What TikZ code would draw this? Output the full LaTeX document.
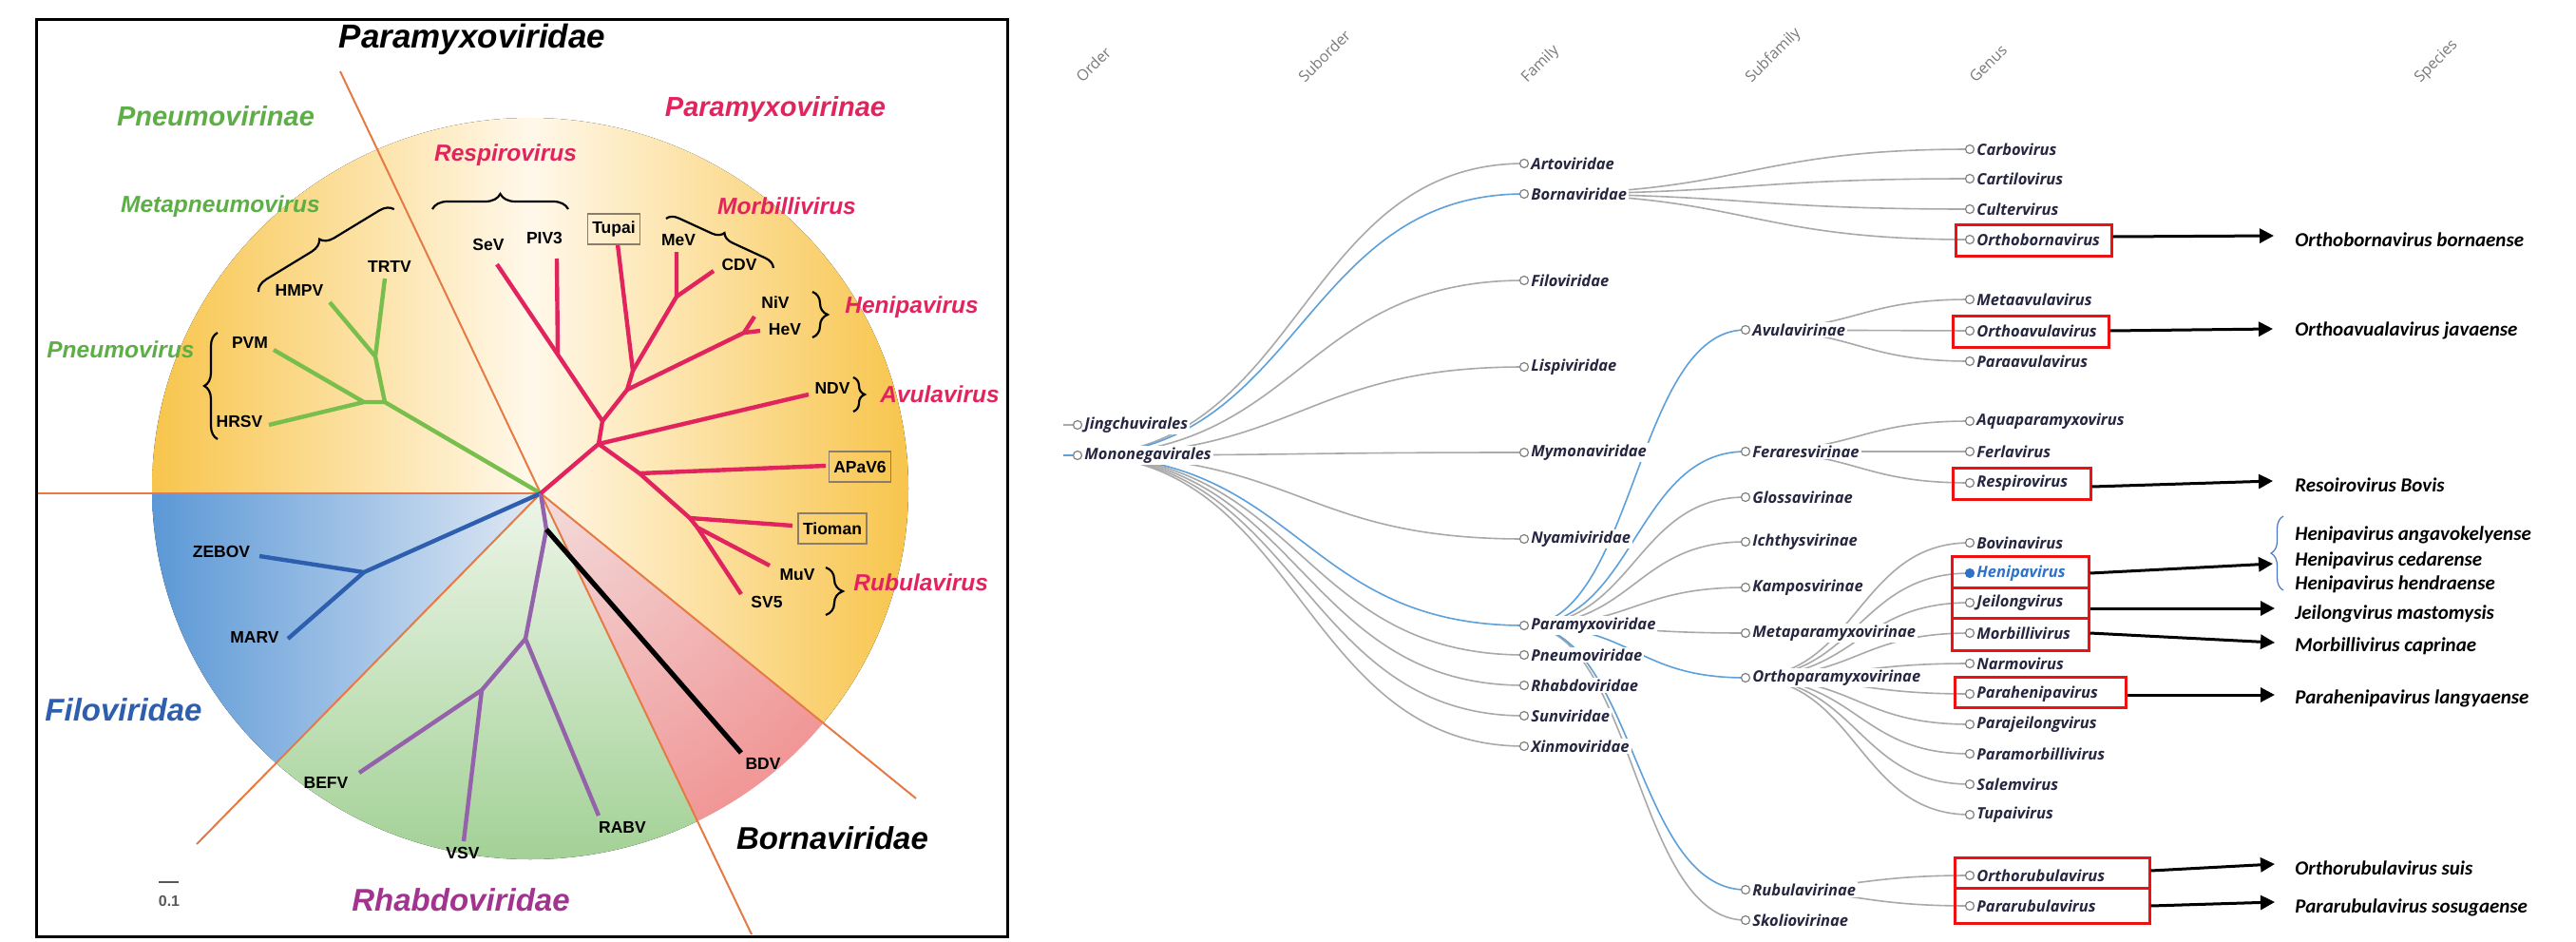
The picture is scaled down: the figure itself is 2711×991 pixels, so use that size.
\documentclass[tikz,border=0pt]{standalone}
\usepackage{fontspec}
\setmainfont{Liberation Sans}
\newfontfamily\osans{Open Sans}
\newfontfamily\carl{Carlito}
\usetikzlibrary{arrows.meta,decorations.pathreplacing,calc}
\pgfdeclarelayer{bg}
\pgfsetlayers{bg,main}
\definecolor{orY}{HTML}{F8C54C}
\definecolor{crY}{HTML}{FFF8EA}
\definecolor{bluD}{HTML}{5B98D6}
\definecolor{bluL}{HTML}{DDE7F4}
\definecolor{grnD}{HTML}{A3D196}
\definecolor{grnL}{HTML}{EEF6EA}
\definecolor{redD}{HTML}{EE4A4A}
\definecolor{redL}{HTML}{F3DCDC}
\definecolor{divO}{HTML}{E57A44}
\definecolor{pneuG}{HTML}{78BE4C}
\definecolor{pneuT}{HTML}{5DAE47}
\definecolor{paraR}{HTML}{E2245E}
\definecolor{filoB}{HTML}{2E5FAE}
\definecolor{rhabP}{HTML}{9462AA}
\definecolor{rhabT}{HTML}{A2338F}
\definecolor{boxC}{HTML}{8B7D6B}
\definecolor{lnkG}{HTML}{A9A9A9}
\definecolor{lnkB}{HTML}{5DA0DA}
\definecolor{txtN}{HTML}{262640}
\definecolor{hdrG}{HTML}{7A7A7A}
\definecolor{boxR}{HTML}{EE1111}
\definecolor{henB}{HTML}{2F73C8}
\definecolor{brB}{HTML}{4A76C8}
\newcommand\tnode[4]{\node[tdot] (#1) at (#2,#3) {};\node[lbl] (#1-l) at (#2+5,#3) {#4};}
\newcommand\lk[3][lnkG]{\draw[#1,line width=0.8pt] let \p1=(#2.center),\p2=(#3.center) in (\p1) .. controls ({0.5*\x1+0.5*\x2},\y1) and ({0.5*\x1+0.5*\x2},\y2) .. (\p2);}
\begin{document}
\begin{tikzpicture}[x=0.5pt,y=-0.5pt,
 tl/.style={line width=2.2pt},
 div/.style={draw=divO,line width=1pt},
 lab/.style={font=\fontsize{8.75}{10}\selectfont\bfseries,inner sep=0pt},
 bxl/.style={lab,draw=boxC,line width=0.7pt,inner xsep=2.5pt,minimum height=16pt},
 fam/.style={font=\fontsize{16.5}{19}\selectfont\bfseries\itshape,inner sep=0pt},
 subf/.style={font=\fontsize{14.5}{17}\selectfont\bfseries\itshape,inner sep=0pt},
 gen/.style={font=\fontsize{12.25}{14}\selectfont\bfseries\itshape,inner sep=0pt},
 brc/.style={decorate,decoration={brace,amplitude=#1},line width=1.1pt},
 tdot/.style={circle,draw=black!50,line width=0.6pt,fill=white,minimum size=4.5pt,inner sep=0pt},
 lbl/.style={anchor=west,inner sep=1pt,fill=white,text=txtN,font=\osans\bfseries\itshape\fontsize{8.25}{9}\selectfont},
 hdr/.style={anchor=base west,rotate=45,inner sep=0pt,text=hdrG,font=\osans\fontsize{8}{9}\selectfont},
 rbox/.style={draw=boxR,line width=1.5pt,inner sep=0pt},
 spc/.style={anchor=west,inner sep=0pt,font=\carl\bfseries\itshape\fontsize{10.5}{12}\selectfont},
 sparr/.style={-{Triangle[length=7.5pt,width=7.5pt]},line width=1.5pt}
]
\useasboundingbox (0,0) rectangle (2711,991);
\begin{pgfonlayer}{bg}
\fill[white] (0,0) rectangle (2711,991);
\end{pgfonlayer}

%================ LEFT PANEL =================
\coordinate (root) at (569,519);
\begin{scope}
 \clip (root) -- (1540,1310) -- (1600,-300) -- (-300,-300) -- (-300,519) -- cycle;
 \fill[left color=orY,right color=orY,middle color=crY] (558,514) ellipse [x radius=398,y radius=390];
\end{scope}
\begin{scope}
 \clip (root) -- (-300,519) -- (-300,1310) -- (-206,1310) -- cycle;
 \fill[left color=bluD,right color=white,middle color=bluL] (558,514) ellipse [x radius=398,y radius=390];
\end{scope}
\begin{scope}
 \clip (root) -- (-206,1310) -- (949,1310) -- cycle;
 \fill[top color=grnL,bottom color=grnD,middle color=grnL] (558,514) ellipse [x radius=398,y radius=390];
\end{scope}
\begin{scope}
 \clip (root) -- (949,1310) -- (1540,1310) -- cycle;
 \clip (558,514) ellipse [x radius=398,y radius=390];
 \shade[inner color=redL,outer color=redD] (root) circle (800);
\end{scope}

\coordinate (d1) at (358,75);
\coordinate (d2) at (38,519);
\coordinate (d3) at (207,888);
\coordinate (d4) at (791,983);
\coordinate (d5) at (964,840);
\draw[div] (root) -- (d1);
\draw[div] (root) -- (d2);
\draw[div] (root) -- (d3);
\draw[div] (root) -- (d4);
\draw[div] (root) -- (d5);

\draw[line width=1.5pt] (38,20) rectangle (1060,985);

% green tree
\coordinate (gA) at (405,423);
\coordinate (gA2) at (383,423);
\coordinate (gB) at (395,375);
\coordinate (eHRSV) at (283,447);
\coordinate (ePVM) at (288,368);
\coordinate (eHMPV) at (347,318);
\coordinate (eTRTV) at (405,293);
\draw[tl,pneuG] (root) -- (gA) -- (gA2) -- (eHRSV);
\draw[tl,pneuG] (gA2) -- (ePVM);
\draw[tl,pneuG] (gA) -- (gB) -- (eTRTV);
\draw[tl,pneuG] (gB) -- (eHMPV);

% blue tree
\coordinate (fF) at (383,602);
\coordinate (eZEBOV) at (273,585);
\coordinate (eMARV) at (303,672);
\draw[tl,filoB] (root) -- (fF) -- (eZEBOV);
\draw[tl,filoB] (fF) -- (eMARV);

% purple tree
\coordinate (r1) at (575,557);
\coordinate (rG1) at (553,672);
\coordinate (rG2) at (507,726);
\coordinate (eRABV) at (630,858);
\coordinate (eBEFV) at (378,813);
\coordinate (eVSV) at (488,885);
\coordinate (eBDV) at (780,792);
\draw[tl,rhabP] (root) -- (r1) -- (rG1) -- (eRABV);
\draw[tl,rhabP] (rG1) -- (rG2) -- (eBEFV);
\draw[tl,rhabP] (rG2) -- (eVSV);
\draw[line width=2.6pt] (r1) -- (eBDV);

% red tree
\coordinate (pP) at (630,467);
\coordinate (pR) at (673,498);
\coordinate (pS) at (726,545);
\coordinate (pS2) at (734,555);
\coordinate (pQ) at (634,443);
\coordinate (pW) at (587,373);
\coordinate (pJ1) at (660,410);
\coordinate (pJ2) at (666,390);
\coordinate (pM) at (712,312);
\coordinate (pH) at (783,350);
\coordinate (eAPaV6) at (869,490);
\coordinate (eTioman) at (834,553);
\coordinate (eMuV) at (810,595);
\coordinate (eSV5) at (780,625);
\coordinate (eNDV) at (851,415);
\coordinate (eSeV) at (523,278);
\coordinate (ePIV3) at (586,272);
\coordinate (eTupai) at (650,257);
\coordinate (eMeV) at (712,265);
\coordinate (eCDV) at (751,285);
\coordinate (eNiV) at (794,333);
\coordinate (eHeV) at (800,348);
\draw[tl,paraR] (root) -- (pP) -- (pR) -- (eAPaV6);
\draw[tl,paraR] (pR) -- (pS) -- (eTioman);
\draw[tl,paraR] (pS) -- (pS2) -- (eMuV);
\draw[tl,paraR] (pS2) -- (eSV5);
\draw[tl,paraR] (pP) -- (eNDV);
\draw[tl,paraR] (pP) -- (pQ) -- (pW) -- (eSeV);
\draw[tl,paraR] (pW) -- (ePIV3);
\draw[tl,paraR] (pQ) -- (pJ1) -- (pJ2) -- (eTupai);
\draw[tl,paraR] (pJ2) -- (pM) -- (eMeV);
\draw[tl,paraR] (pM) -- (eCDV);
\draw[tl,paraR] (pJ1) -- (pH) -- (eNiV);
\draw[tl,paraR] (pH) -- (eHeV);

% leaf labels
\node[lab] (nTRTV) at (410,280) {TRTV};
\node[lab] (nHMPV) at (315,305) {HMPV};
\node[lab] (nPVM) at (263,360) {PVM};
\node[lab] (nHRSV) at (252,443) {HRSV};
\node[lab] (nSeV) at (514,257) {SeV};
\node[lab] (nPIV3) at (573,250) {PIV3};
\node[lab] (nMeV) at (714,253) {MeV};
\node[lab] (nCDV) at (778,278) {CDV};
\node[lab] (nNiV) at (816,318) {NiV};
\node[lab] (nHeV) at (826,347) {HeV};
\node[lab] (nNDV) at (876,408) {NDV};
\node[lab] (nMuV) at (839,605) {MuV};
\node[lab] (nSV5) at (807,633) {SV5};
\node[lab] (nZEBOV) at (233,580) {ZEBOV};
\node[lab] (nMARV) at (268,670) {MARV};
\node[lab] (nBEFV) at (343,823) {BEFV};
\node[lab] (nVSV) at (487,897) {VSV};
\node[lab] (nRABV) at (655,870) {RABV};
\node[lab] (nBDV) at (803,803) {BDV};
\node[bxl] (nTupai) at (646,241) {Tupai};
\node[bxl] (nAPaV6) at (905,491) {APaV6};
\node[bxl] (nTioman) at (876,556) {Tioman};

% group labels
\node[inner sep=0pt,anchor=base,font=\fontsize{17.5}{21}\selectfont\bfseries\itshape] (tPara) at (497,50) {Paramyxoviridae};
\node[subf,text=pneuT] (tPneu) at (227,122) {Pneumovirinae};
\node[gen,text=pneuT] (tMeta) at (232,217) {Metapneumovirus};
\node[gen,text=pneuT] (tPnv) at (127,368) {Pneumovirus};
\node[subf,text=paraR] (tPvi) at (816,115) {Paramyxovirinae};
\node[gen,text=paraR] (tResp) at (532,163) {Respirovirus};
\node[gen,text=paraR] (tMorb) at (828,217) {Morbillivirus};
\node[gen,text=paraR,anchor=west] (tHeni) at (889,323) {Henipavirus};
\node[gen,text=paraR,anchor=west] (tAvul) at (926,415) {Avulavirus};
\node[gen,text=paraR,anchor=west] (tRubu) at (898,613) {Rubulavirus};
\node[fam,text=filoB] (tFilo) at (130,747) {Filoviridae};
\node[fam,text=rhabT] (tRhab) at (485,947) {Rhabdoviridae};
\node[fam] (tBorn) at (876,882) {Bornaviridae};
\draw[line width=1.2pt,black!65] (167,928) -- (188,928);
\node[inner sep=0pt,text=black!65,font=\fontsize{8}{9}\selectfont\bfseries] (tScale) at (178,948) {0.1};

% braces
\draw[brc=7pt] (272,307) -- (415,220);
\draw[brc=7pt] (229,462) -- (229,350);
\draw[brc=8pt] (455,220) -- (598,220);
\draw[brc=6pt] (701,230) -- (814,282);
\draw[brc=8pt] (855,307) -- (855,355);
\draw[brc=6pt] (898,397) -- (898,433);
\draw[brc=9pt] (869,597) -- (869,647);

%================ RIGHT PANEL =================
\node[hdr] (hO) at (1139,88) {Order};
\node[hdr] (hSO) at (1373,88) {Suborder};
\node[hdr] (hF) at (1607,88) {Family};
\node[hdr] (hSF) at (1843,88) {Subfamily};
\node[hdr] (hG) at (2079,88) {Genus};
\node[hdr] (hS) at (2547,88) {Species};

\coordinate (stJ) at (1119,447);
\coordinate (stM) at (1119,479);
\tnode{jing}{1134}{447}{Jingchuvirales}
\tnode{mono}{1134}{479}{Mononegavirales}
\tnode{art}{1604}{172}{Artoviridae}
\tnode{bor}{1604}{204}{Bornaviridae}
\tnode{filo}{1604}{295}{Filoviridae}
\tnode{lisp}{1604}{386}{Lispiviridae}
\tnode{mymo}{1604}{476}{Mymonaviridae}
\tnode{nyam}{1604}{567}{Nyamiviridae}
\tnode{parf}{1604}{658}{Paramyxoviridae}
\tnode{pneu}{1604}{689}{Pneumoviridae}
\tnode{rhab}{1604}{721}{Rhabdoviridae}
\tnode{sunv}{1604}{753}{Sunviridae}
\tnode{xinm}{1604}{785}{Xinmoviridae}
\tnode{avu}{1837}{347}{Avulavirinae}
\tnode{fera}{1837}{475}{Feraresvirinae}
\tnode{glos}{1837}{523}{Glossavirinae}
\tnode{ichs}{1837}{570}{Ichthysvirinae}
\tnode{kamp}{1837}{618}{Kamposvirinae}
\tnode{meta}{1837}{666}{Metaparamyxovirinae}
\tnode{orth}{1837}{713}{Orthoparamyxovirinae}
\tnode{rubu}{1837}{936}{Rubulavirinae}
\tnode{skol}{1837}{968}{Skoliovirinae}
\tnode{carb}{2073}{157}{Carbovirus}
\tnode{cart}{2073}{188}{Cartilovirus}
\tnode{cult}{2073}{220}{Cultervirus}
\tnode{obor}{2073}{252}{Orthobornavirus}
\tnode{meav}{2073}{315}{Metaavulavirus}
\tnode{orav}{2073}{348}{Orthoavulavirus}
\tnode{paav}{2073}{380}{Paraavulavirus}
\tnode{aqua}{2073}{443}{Aquaparamyxovirus}
\tnode{ferl}{2073}{475}{Ferlavirus}
\tnode{resp}{2073}{508}{Respirovirus}
\tnode{bovi}{2073}{571}{Bovinavirus}
\node[tdot,fill=henB,draw=henB] (heni) at (2073,603) {};
\node[lbl,text=henB] (heni-l) at (2078,603) {Henipavirus};
\tnode{jeil}{2073}{634}{Jeilongvirus}
\tnode{morb}{2073}{666}{Morbillivirus}
\tnode{narm}{2073}{698}{Narmovirus}
\tnode{phen}{2073}{730}{Parahenipavirus}
\tnode{pjei}{2073}{762}{Parajeilongvirus}
\tnode{pmor}{2073}{793}{Paramorbillivirus}
\tnode{salm}{2073}{825}{Salemvirus}
\tnode{tupv}{2073}{857}{Tupaivirus}
\tnode{orub}{2073}{921}{Orthorubulavirus}
\tnode{prub}{2073}{953}{Pararubulavirus}

\begin{pgfonlayer}{bg}
\draw[lnkG,line width=0.8pt] (stJ) -- (jing.center);
\draw[lnkB,line width=0.8pt] (stM) -- (mono.center);
\lk{mono}{art}\lk[lnkB]{mono}{bor}\lk{mono}{filo}\lk{mono}{lisp}\lk{mono}{mymo}\lk{mono}{nyam}
\lk{mono}{pneu}\lk{mono}{rhab}\lk{mono}{sunv}\lk{mono}{xinm}\lk[lnkB]{mono}{parf}
\lk{parf}{glos}\lk{parf}{ichs}\lk{parf}{kamp}\lk{parf}{meta}\lk{parf}{skol}
\lk[lnkB]{parf}{avu}\lk[lnkB]{parf}{fera}\lk[lnkB]{parf}{orth}\lk[lnkB]{parf}{rubu}
\lk{bor}{carb}\lk{bor}{cart}\lk{bor}{cult}\lk{bor}{obor}
\lk{avu}{meav}\lk{avu}{orav}\lk{avu}{paav}
\lk{fera}{aqua}\lk{fera}{ferl}\lk{fera}{resp}
\lk{orth}{bovi}\lk{orth}{heni}\lk{orth}{jeil}\lk{orth}{morb}\lk{orth}{narm}
\lk{orth}{phen}\lk{orth}{pjei}\lk{orth}{pmor}\lk{orth}{salm}\lk{orth}{tupv}
\lk{rubu}{orub}\lk{rubu}{prub}
\end{pgfonlayer}

% red boxes
\node[rbox,minimum width=82pt,minimum height=16.5pt] (bobor) at (2140,252.5) {};
\node[rbox,minimum width=82pt,minimum height=16.5pt] (borav) at (2137,348.5) {};
\node[rbox,minimum width=72.5pt,minimum height=16.5pt] (bresp) at (2127.5,508.5) {};
\node[rbox,minimum width=72pt,minimum height=16.5pt] (bheni) at (2126,601.5) {};
\node[rbox,minimum width=72pt,minimum height=16pt] (bjeil) at (2126,634) {};
\node[rbox,minimum width=72pt,minimum height=17pt] (bmorb) at (2126,667) {};
\node[rbox,minimum width=90pt,minimum height=16pt] (bphen) at (2147,728) {};
\node[rbox,minimum width=102.5pt,minimum height=16pt] (borub) at (2159.5,918) {};
\node[rbox,minimum width=102.5pt,minimum height=18.5pt] (bprub) at (2159.5,952.5) {};

% species
\node[spc] (sobor) at (2415,252) {Orthobornavirus bornaense};
\node[spc] (sorav) at (2415,348) {Orthoavualavirus javaense};
\node[spc] (sresp) at (2415,510) {Resoirovirus Bovis};
\node[spc] (sheni1) at (2415,563) {Henipavirus angavokelyense};
\node[spc] (sheni2) at (2415,590) {Henipavirus cedarense};
\node[spc] (sheni3) at (2415,615) {Henipavirus hendraense};
\node[spc] (sjeil) at (2415,646) {Jeilongvirus mastomysis};
\node[spc] (smorb) at (2415,680) {Morbillivirus caprinae};
\node[spc] (sphen) at (2415,735) {Parahenipavirus langyaense};
\node[spc] (sorub) at (2415,913) {Orthorubulavirus suis};
\node[spc] (sprub) at (2415,955) {Pararubulavirus sosugaense};
\draw[brB,line width=0.6pt,decorate,decoration={brace,amplitude=6.5pt}] (2403,621) -- (2403,543);

\coordinate (aobor) at (2393,248);
\coordinate (aorav) at (2392,346);
\coordinate (aresp) at (2392,506);
\coordinate (aheni) at (2392,593);
\coordinate (ajeil) at (2394,640);
\coordinate (amorb) at (2394,676);
\coordinate (aphen) at (2394,731);
\coordinate (aorub) at (2394,909);
\coordinate (aprub) at (2394,949);
\draw[sparr] (bobor.east |- 0,249) -- (aobor);
\draw[sparr] (borav.east |- 0,348) -- (aorav);
\draw[sparr] (bresp.east |- 0,512) -- (aresp);
\draw[sparr] (bheni.east |- 0,603) -- (aheni);
\draw[sparr] (bjeil.east |- 0,640) -- (ajeil);
\draw[sparr] (bmorb.east |- 0,666) -- (amorb);
\draw[sparr] (bphen.east |- 0,731) -- (aphen);
\draw[sparr] (borub.east |- 0,916) -- (aorub);
\draw[sparr] (bprub.east |- 0,953) -- (aprub);
\end{tikzpicture}
\end{document}
